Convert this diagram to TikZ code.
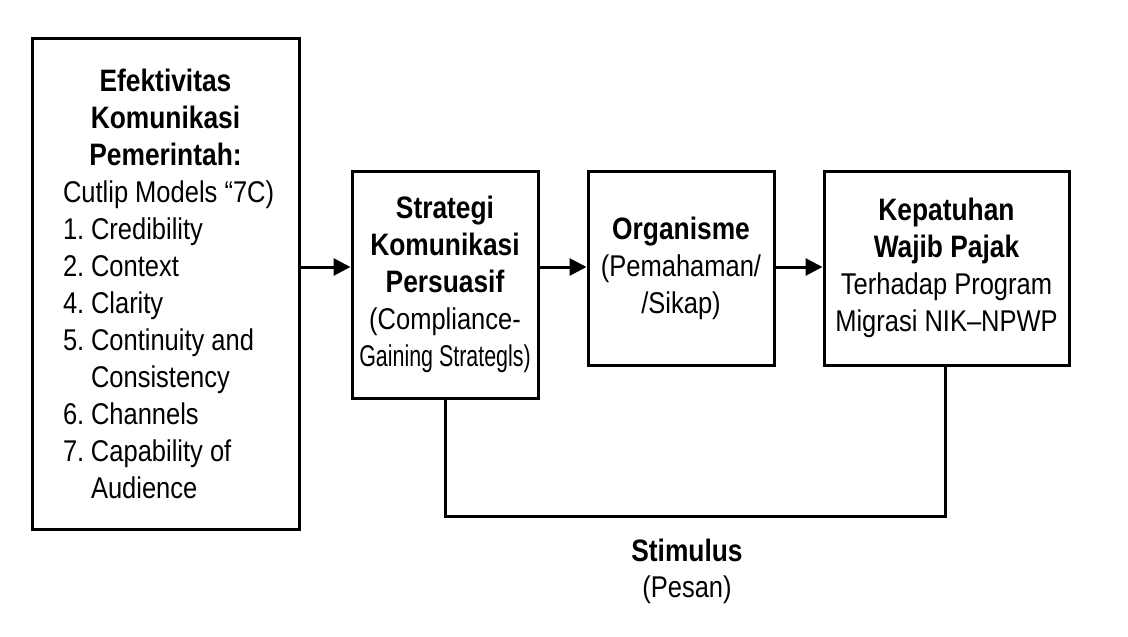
\documentclass[tikz,border=0pt]{standalone}
\usepackage{fontspec}
\usepackage{graphicx}
\setmainfont{Liberation Sans}[FakeStretch=0.85]
\usetikzlibrary{arrows.meta}
\tikzset{
  box/.style={draw=black, line width=3pt, fill=white, inner sep=0pt,
    font=\fontsize{30pt}{37pt}\selectfont, align=center},
  conn/.style={line width=3pt, draw=black},
  arr/.style={conn, -{Triangle[length=17pt,width=17pt]}},
  lbl/.style={inner sep=0pt, font=\fontsize{30pt}{37pt}\selectfont, align=center}
}
\newcommand{\itm}[1]{\makebox[28pt][l]{#1}}
\newcommand{\bt}[1]{{\fontsize{31pt}{37pt}\selectfont\bfseries #1}}
\begin{document}
\begin{tikzpicture}[x=1pt,y=-1pt]
\useasboundingbox[fill=white] (0,0) rectangle (1128,637);

\node[box, minimum width=267pt, minimum height=491pt, text width=226pt, align=none] (b1) at (165.5,284) {%
  {\centering\fontsize{31pt}{37pt}\selectfont\bfseries Efektivitas\\Komunikasi\\Pemerintah:\par}
  \leftskip=10.5pt \rightskip=0pt plus 1fil \parindent=0pt \parskip=0pt
  Cutlip Models “7C)\par
  \itm{1.}Credibility\par
  \itm{2.}Context\par
  \itm{4.}Clarity\par
  \hangindent=28pt \hangafter=1 \itm{5.}Continuity and\\Consistency\par
  \itm{6.}Channels\par
  \hangindent=28pt \hangafter=1 \itm{7.}Capability of\\Audience\par
};

\node[box, minimum width=186pt, minimum height=227pt] (b2) at (445,284.5)
  {\bt{Strategi}\\\bt{Komunikasi}\\\bt{Persuasif}\\(Compliance-\\\scalebox{0.84}[1]{Gaining Strategls)}};

\node[box, minimum width=186pt, minimum height=194pt] (b3) at (681,268)
  {\bt{Organisme}\\(Pemahaman/\\/Sikap)};

\node[box, minimum width=245pt, minimum height=194pt] (b4) at (946.5,268)
  {\bt{Kepatuhan}\\\bt{Wajib Pajak}\\Terhadap Program\\Migrasi NIK–NPWP};

\coordinate (ay) at (0,267);
\coordinate (fl) at (445,516);
\coordinate (fr) at (945,516);

\draw[arr] (b1.east |- ay) -- (b2.west |- ay);
\draw[arr] (b2.east |- ay) -- (b3.west |- ay);
\draw[arr] (b3.east |- ay) -- (b4.west |- ay);

\draw[conn] (b2.south) -- (fl) -- (fr) -- (fr |- b4.south);

\node[lbl, anchor=base] (stim) at (687,561) {\bt{Stimulus}};
\node[lbl, anchor=base] (pesan) at (687,597) {(Pesan)};
\end{tikzpicture}
\end{document}
